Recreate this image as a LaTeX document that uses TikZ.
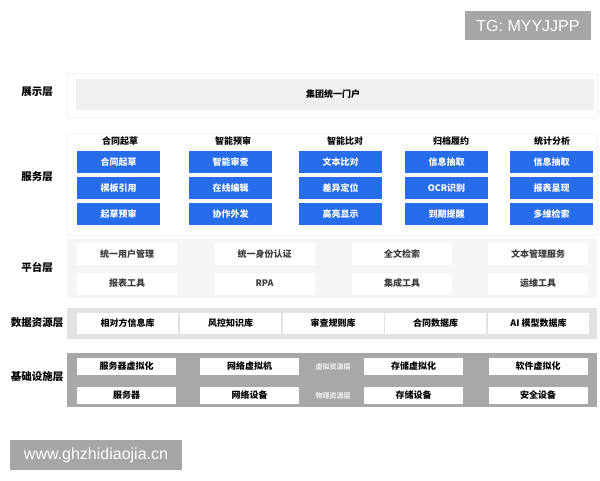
\documentclass[tikz,border=0pt]{standalone}
\usepackage{fontspec}
\setmainfont{Noto Sans CJK SC}
\newfontfamily\latinsans{Liberation Sans}
\definecolor{blueb}{RGB}{38,108,235}
\definecolor{wmgray}{RGB}{166,166,166}
\definecolor{dispin}{RGB}{240,240,240}
\definecolor{platbg}{RGB}{245,245,245}
\definecolor{databg}{RGB}{226,226,226}
\definecolor{infrabg}{RGB}{168,168,168}
\definecolor{faint}{RGB}{243,243,243}
\definecolor{plattext}{RGB}{60,60,60}
\tikzset{
  panel/.style={draw=none, inner sep=0pt},
  layerlabel/.style={font=\fontsize{10.5}{12}\selectfont\bfseries, text=black, inner sep=0pt},
  heading/.style={font=\fontsize{9}{11}\selectfont\bfseries, text=black, inner sep=0pt},
  bluebox/.style={fill=blueb, text=white, font=\fontsize{9}{11}\selectfont\bfseries, minimum width=83pt, minimum height=22pt, inner sep=0pt},
  platbox/.style={fill=white, text=plattext, font=\fontsize{9}{11}\selectfont\bfseries, minimum width=100pt, minimum height=22pt, inner sep=0pt},
  databox/.style={fill=white, text=black, font=\fontsize{9}{11}\selectfont\bfseries, minimum width=101pt, minimum height=21pt, inner sep=0pt},
  infrabox/.style={fill=white, text=black, font=\fontsize{9}{11}\selectfont\bfseries, minimum width=99pt, minimum height=17pt, inner sep=0pt},
  sublabel/.style={text=white!92!black, font=\fontsize{7}{8}\selectfont\bfseries, inner sep=0pt},
  watermark/.style={fill=wmgray, text=white, font=\latinsans\fontsize{16}{18}\selectfont, inner sep=0pt}
}
\begin{document}
\begin{tikzpicture}[x=1pt,y=-1pt]
\useasboundingbox (0,0) rectangle (600,480);
\fill[white] (0,0) rectangle (600,480);

% watermarks
\node[watermark, minimum width=126pt, minimum height=29pt] (tg) at (528,25.5) {TG: MYYJJPP};
\node[watermark, minimum width=172pt, minimum height=30pt] (www) at (96,455) {www.ghzhidiaojia.cn};

% layer labels
\node[layerlabel] (l1) at (37,92) {展示层};
\node[layerlabel] (l2) at (37,177) {服务层};
\node[layerlabel] (l3) at (37,267) {平台层};
\node[layerlabel] (l4) at (37,323) {数据资源层};
\node[layerlabel] (l5) at (37,377) {基础设施层};

% display layer
\draw[fill=white, draw=faint] (67,73) rectangle (597,117);
\fill[dispin] (76,79) rectangle (594,110);
\node[heading] (portal) at (333,94.5) {集团统一门户};

% service layer
\draw[fill=white, draw=faint] (67,133) rectangle (597,235);
\node[heading] (h1) at (120,141) {合同起草};
\node[heading] (h2) at (233,141) {智能预审};
\node[heading] (h3) at (345,141) {智能比对};
\node[heading] (h4) at (451,141) {归档履约};
\node[heading] (h5) at (552,141) {统计分析};

\node[bluebox] (s11) at (118.5,162) {合同起草};
\node[bluebox] (s12) at (118.5,188) {模板引用};
\node[bluebox] (s13) at (118.5,214) {起草预审};
\node[bluebox] (s21) at (230.5,162) {智能审查};
\node[bluebox] (s22) at (230.5,188) {在线编辑};
\node[bluebox] (s23) at (230.5,214) {协作外发};
\node[bluebox] (s31) at (340.5,162) {文本比对};
\node[bluebox] (s32) at (340.5,188) {差异定位};
\node[bluebox] (s33) at (340.5,214) {高亮显示};
\node[bluebox] (s41) at (446.5,162) {信息抽取};
\node[bluebox] (s42) at (446.5,188) {OCR识别};
\node[bluebox] (s43) at (446.5,214) {到期提醒};
\node[bluebox] (s51) at (551.5,162) {信息抽取};
\node[bluebox] (s52) at (551.5,188) {报表呈现};
\node[bluebox] (s53) at (551.5,214) {多维检索};

% platform layer
\fill[platbg] (67,239) rectangle (597,298);
\node[platbox] (p11) at (127,254) {统一用户管理};
\node[platbox] (p12) at (264.5,254) {统一身份认证};
\node[platbox] (p13) at (402,254) {全文检索};
\node[platbox] (p14) at (538,254) {文本管理服务};
\node[platbox] (p21) at (127,283.5) {报表工具};
\node[platbox] (p22) at (264.5,283.5) {RPA};
\node[platbox] (p23) at (402,283.5) {集成工具};
\node[platbox] (p24) at (538,283.5) {运维工具};

% data layer
\fill[databg] (67,308) rectangle (597,339);
\node[databox] (d1) at (127.5,323.5) {相对方信息库};
\node[databox] (d2) at (230.5,323.5) {风控知识库};
\node[databox] (d3) at (333,323.5) {审查规则库};
\node[databox] (d4) at (435.5,323.5) {合同数据库};
\node[databox] (d5) at (538.5,323.5) {AI 模型数据库};

% infrastructure layer
\fill[infrabg] (67,353) rectangle (597,407);
\node[infrabox] (i11) at (126.5,366) {服务器虚拟化};
\node[infrabox] (i12) at (249.5,366) {网络虚拟机};
\node[infrabox] (i13) at (413.5,366) {存储虚拟化};
\node[infrabox] (i14) at (538,366) {软件虚拟化};
\node[infrabox] (i21) at (126.5,395.5) {服务器};
\node[infrabox] (i22) at (249.5,395.5) {网络设备};
\node[infrabox] (i23) at (413.5,395.5) {存储设备};
\node[infrabox] (i24) at (538,395.5) {安全设备};
\node[sublabel] (v1) at (333,367) {虚拟资源层};
\node[sublabel] (v2) at (333,395.5) {物理资源层};
\end{tikzpicture}
\end{document}
